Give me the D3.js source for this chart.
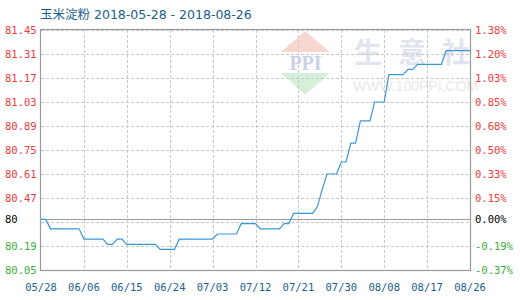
<!DOCTYPE html>
<html><head><meta charset="utf-8">
<script src="https://cdn.jsdelivr.net/npm/d3@7"></script>
<style>body{margin:0;background:#fff}svg{display:block}</style>
</head><body><svg id="c" width="520" height="300"></svg>
<script>
const title = "玉米淀粉 2018-05-28 - 2018-08-26";
const startDate = "2018-05-28";
// daily prices, 2018-05-28 .. 2018-08-26
const values = [
 80.345,80.345,
 80.29,80.29,80.29,80.29,80.29,80.29,80.29,
 80.23,80.23,80.23,80.23,80.23,
 80.20,80.20,
 80.23,80.23,
 80.20,80.20,80.20,80.20,80.20,80.20,80.20,
 80.17,80.17,80.17,80.17,
 80.23,80.23,80.23,80.23,80.23,80.23,80.23,80.23,
 80.26,80.26,80.26,80.26,80.26,
 80.32,80.32,80.32,80.32,
 80.29,80.29,80.29,80.29,80.29,
 80.32,80.32,
 80.38,80.38,80.38,80.38,80.38,
 80.42,
 80.52,
 80.61,80.61,80.61,
 80.68,80.68,
 80.79,80.79,
 80.92,80.92,80.92,
 81.03,81.03,81.03,
 81.19,81.19,81.19,81.19,
 81.22,81.22,
 81.25,81.25,81.25,81.25,81.25,81.25,
 81.33,81.33,81.33,81.33,81.33,81.33
];
const xTickLabels = ["05/28","06/06","06/15","06/24","07/03","07/12","07/21","07/30","08/08","08/17","08/26"];
const gridValues = [81.45,81.31,81.17,81.03,80.89,80.75,80.61,80.47,80.33,80.19,80.05];
const leftTickValues = [81.45,81.31,81.17,81.03,80.89,80.75,80.61,80.47,80.19,80.05];
const leftTickLabels = ["81.45","81.31","81.17","81.03","80.89","80.75","80.61","80.47","80.19","80.05"];
const baseLabel = "80";
const rightTickLabels = ["1.38%","1.20%","1.03%","0.85%","0.68%","0.50%","0.33%","0.15%","-0.19%","-0.37%"];
const baseRightLabel = "0.00%";
const watermarkChars = ["生","意","社"];

const svg = d3.select("#c");
const L = 41, R = 470, T = 30, B = 270;
const parse = d3.timeParse("%Y-%m-%d");
const d0 = parse(startDate);
const data = values.map((v, i) => ({date: d3.timeDay.offset(d0, i), v}));
const x = d3.scaleTime().domain([data[0].date, data[data.length-1].date]).range([L, R]);
const y = d3.scaleLinear().domain([80.05, 81.45]).range([B, T]);
const base = values[0];
const tickDates = xTickLabels.map(s => parse("2018-" + s.replace("/", "-")));

const mono = "'DejaVu Sans Mono', 'Liberation Mono', monospace";
const red = "#f23a3a", green = "#3aae3a", blue = "#1b5e8c";

// watermark
const wm = svg.append("g");
wm.append("polygon").attr("points", "281,52 305,31 330,52").attr("fill", "#f8d6d2");
wm.append("polygon").attr("points", "281,73 330,73 305,95").attr("fill", "#d6efd8");
wm.append("text").attr("x", 305.5).attr("y", 70).attr("text-anchor", "middle")
  .attr("font-family", "'Liberation Serif', serif").attr("font-weight", "bold").attr("font-size", 20)
  .attr("fill", "#c9d2e6").text("PPI");
wm.selectAll("text.wc").data(watermarkChars).join("text").attr("class", "wc")
  .attr("x", (d, i) => 354 + i * 44).attr("y", 63).attr("font-family", "'Noto Sans CJK SC'").attr("font-size", 28)
  .attr("font-weight", "bold").attr("fill", "#dfe4ee").text(d => d);
wm.append("text").attr("x", 353).attr("y", 91).attr("font-family", "'Liberation Sans', sans-serif").attr("font-size", 14)
  .attr("fill", "#e8e8e8").text("WWW.100PPI.COM");

// grid
svg.append("g").selectAll("line").data(gridValues).join("line")
  .attr("x1", L).attr("x2", R).attr("y1", d => Math.round(y(d)) + 0.5).attr("y2", d => Math.round(y(d)) + 0.5)
  .attr("stroke", "#c8c8c8").attr("stroke-dasharray", "3,2");
svg.append("g").selectAll("line").data(tickDates.slice(1, -1)).join("line")
  .attr("y1", T).attr("y2", B).attr("x1", d => Math.round(x(d)) + 0.5).attr("x2", d => Math.round(x(d)) + 0.5)
  .attr("stroke", "#c8c8c8").attr("stroke-dasharray", "3,2");

// frame
svg.append("rect").attr("x", L - 0.5).attr("y", T - 0.5).attr("width", R - L + 1).attr("height", B - T + 1)
  .attr("fill", "none").attr("stroke", "#9a9a9a").attr("stroke-width", 1.2);
// base line
svg.append("line").attr("x1", L).attr("x2", R).attr("y1", Math.round(y(base)) + 0.5).attr("y2", Math.round(y(base)) + 0.5)
  .attr("stroke", "#9a9a9a").attr("stroke-width", 1.2);

// series
svg.append("path").datum(data)
  .attr("d", d3.line().x(d => x(d.date)).y(d => y(d.v)))
  .attr("fill", "none").attr("stroke", "#3a98d8").attr("stroke-width", 1.2);

// left labels
const lg = svg.append("g").attr("font-family", mono).attr("font-size", 10.5);
lg.selectAll("text").data(leftTickValues).join("text")
  .attr("x", 5).attr("y", d => y(d)).attr("dy", "0.35em")
  .attr("fill", d => d > base ? red : green).text((d, i) => leftTickLabels[i]);
lg.append("text").attr("x", 5).attr("y", y(base)).attr("dy", "0.35em").attr("fill", "#000").text(baseLabel);

// right labels
const rg = svg.append("g").attr("font-family", mono).attr("font-size", 10.5);
rg.selectAll("text").data(leftTickValues).join("text")
  .attr("x", 475).attr("y", d => y(d)).attr("dy", "0.35em")
  .attr("fill", d => d > base ? red : green).text((d, i) => rightTickLabels[i]);
rg.append("text").attr("x", 475).attr("y", y(base)).attr("dy", "0.35em").attr("fill", "#000").text(baseRightLabel);

// x labels
svg.append("g").attr("font-family", mono).attr("font-size", 10.5).attr("fill", blue)
  .selectAll("text").data(tickDates).join("text")
  .attr("x", d => x(d)).attr("y", 291).attr("text-anchor", "middle").text((d, i) => xTickLabels[i]);

// title
svg.append("text").attr("x", 40).attr("y", 19).attr("font-family", "'DejaVu Sans', 'Noto Sans CJK SC', sans-serif")
  .attr("font-size", 12.5).attr("fill", blue).text(title);
</script></body></html>
